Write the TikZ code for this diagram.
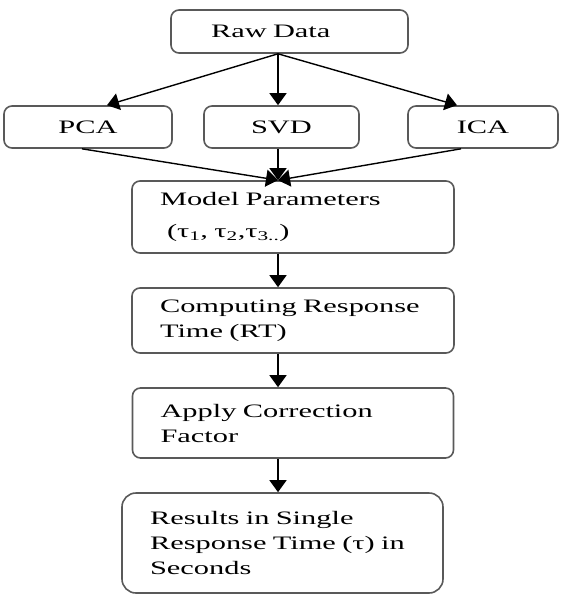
\documentclass[tikz,border=0pt]{standalone}
\usepackage{fontspec}
\setmainfont{Liberation Serif}[FakeStretch=1.6]
\usetikzlibrary{arrows.meta,calc}
\tikzset{
  flowbox/.style={rectangle,rounded corners=8pt,draw=black!65,line width=1.6pt,
    font=\fontsize{19}{25}\selectfont,inner ysep=0pt},
  methodbox/.style={flowbox,minimum height=42pt,text centered},
  stepbox/.style={flowbox,align=left,inner xsep=28pt},
  arrow/.style={-{Triangle[width=17pt,length=12pt]},line width=1.4pt},
}

\begin{document}
\begin{tikzpicture}[x=1pt,y=-1pt]
  \useasboundingbox (0,0) rectangle (560,594);
  \coordinate (spine) at (278,0);

  \node[stepbox, text width=157pt, inner xsep=40pt, minimum height=43pt] (raw) at (289.5,31.5) {Raw Data};

  \node[methodbox, minimum width=168pt] (pca) at (88,127) {PCA};
  \node[methodbox, minimum width=155pt] (svd) at (281.5,127) {SVD};
  \node[methodbox, minimum width=150pt] (ica) at (483,127) {ICA};

  \node[stepbox, text width=266pt, minimum height=72pt] (mp) at (293,217)
    {Model~Parameters\\[7pt]\hspace{7pt}(τ\textsubscript{1}, τ\textsubscript{2},τ\textsubscript{3..})};
  \node[stepbox, text width=266pt, minimum height=65pt] (rt) at (293,320.5)
    {Computing~Response\\Time (RT)};
  \node[stepbox, text width=265pt, minimum height=70pt] (cf) at (293,423)
    {Apply Correction\\Factor};
  \node[stepbox, text width=265pt, minimum height=100pt, rounded corners=14pt] (res) at (282.5,543)
    {Results in Single\\Response~Time~(τ)~in\\Seconds};

  \draw[arrow] (raw.south -| spine) -- ([xshift=19pt]pca.north);
  \draw[arrow] (raw.south -| spine) -- (svd.north -| spine);
  \draw[arrow] (raw.south -| spine) -- ([xshift=-26pt]ica.north);

  \draw[arrow] ([xshift=-6pt]pca.south) -- (mp.north -| spine);
  \draw[arrow] (svd.south -| spine) -- (mp.north -| spine);
  \draw[arrow] ([xshift=-22pt]ica.south) -- (mp.north -| spine);

  \draw[arrow] (mp.south -| spine) -- (rt.north -| spine);
  \draw[arrow] (rt.south -| spine) -- (cf.north -| spine);
  \draw[arrow] (cf.south -| spine) -- (res.north -| spine);
\end{tikzpicture}
\end{document}
